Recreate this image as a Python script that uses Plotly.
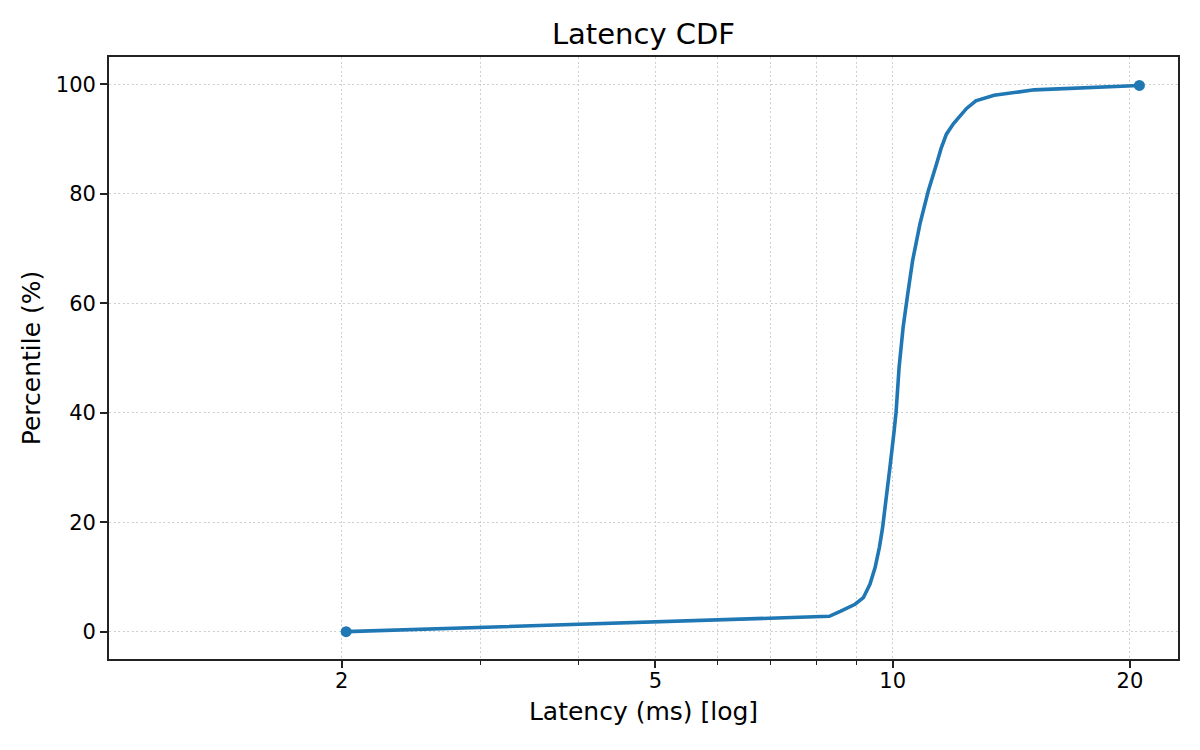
import plotly.graph_objects as go

# Data
latency_ms = [2.026, 8.31, 8.58, 8.96, 9.18, 9.36, 9.50, 9.62, 9.71, 9.81, 9.92,
              10.04, 10.10, 10.19, 10.31, 10.45, 10.60, 10.83, 11.10, 11.37, 11.52,
              11.70, 11.94, 12.41, 12.75, 13.45, 15.12, 20.56]
percentile = [0, 2.8, 3.7, 5.0, 6.2, 8.7, 11.7, 15.4, 19.0, 23.9, 30.0,
              36.5, 40.1, 48.3, 55.6, 61.7, 67.8, 74.5, 80.6, 85.5, 88.3,
              90.9, 92.8, 95.6, 97.0, 98.0, 99.0, 99.8]
x_major_ticks = [2, 5, 10, 20]
x_major_labels = ["2", "5", "10", "20"]
x_minor_ticks = [3, 4, 6, 7, 8, 9]
y_ticks = [0, 20, 40, 60, 80, 100]

BLUE = "#1f77b4"
AXC = "#222222"
GRIDC = "#d0d0d0"
FONT = "DejaVu Sans"

fig = go.Figure()
fig.add_trace(go.Scatter(
    x=latency_ms, y=percentile, mode="lines",
    line=dict(color=BLUE, width=3.6),
    showlegend=False, hoverinfo="skip"))
fig.add_trace(go.Scatter(
    x=[latency_ms[0], latency_ms[-1]], y=[percentile[0], percentile[-1]],
    mode="markers", marker=dict(color=BLUE, size=11), showlegend=False))

# page body has an 8px margin, so margins are compensated accordingly
fig.update_layout(
    width=1200, height=750,
    paper_bgcolor="white", plot_bgcolor="white",
    margin=dict(l=101, r=30, t=49, b=99),
    font=dict(family=FONT, color="black", size=21),
    title=dict(text="Latency CDF", x=(101 + (1200 - 101 - 30) / 2) / 1200, xanchor="center",
               yref="container", y=1 - 26 / 750, yanchor="middle",
               font=dict(size=29, family=FONT, color="black")),
    xaxis=dict(
        type="log", range=[0.0058, 1.362],
        tickvals=x_major_ticks, ticktext=x_major_labels,
        ticks="outside", ticklen=7, tickwidth=1.7, tickcolor=AXC,
        ticklabelstandoff=-5,
        tickfont=dict(size=21, family=FONT, color="black"),
        showline=True, linecolor=AXC, linewidth=1.7, mirror=True,
        showgrid=True, gridcolor=GRIDC, gridwidth=1.3, griddash="2px,2.5px",
        zeroline=False,
        minor=dict(tickvals=x_minor_ticks, ticks="outside", ticklen=4, tickwidth=1.2,
                   tickcolor=AXC, showgrid=True, gridcolor=GRIDC, gridwidth=1.3,
                   griddash="2px,2.5px"),
        title=dict(text="Latency (ms) [log]", font=dict(size=25, family=FONT, color="black"),
                   standoff=10),
    ),
    yaxis=dict(
        range=[-5, 105], tickvals=y_ticks,
        ticks="outside", ticklen=7, tickwidth=1.7, tickcolor=AXC,
        tickfont=dict(size=21, family=FONT, color="black"),
        showline=True, linecolor=AXC, linewidth=1.7, mirror=True,
        showgrid=True, gridcolor=GRIDC, gridwidth=1.3, griddash="2px,2.5px",
        zeroline=False,
        title=dict(text="Percentile (%)", font=dict(size=25, family=FONT, color="black"),
                   standoff=8),
    ),
)

fig.write_html("out.html")
